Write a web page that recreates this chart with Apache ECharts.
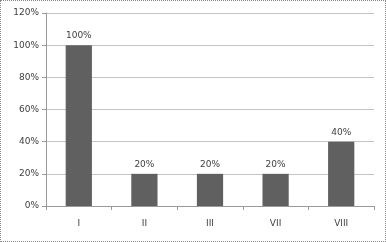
<!DOCTYPE html>
<html><head><meta charset="utf-8">
<script src="https://cdn.jsdelivr.net/npm/echarts@6/dist/echarts.min.js"></script>
<style>html,body{margin:0;padding:0;background:#fff}#c{width:386px;height:242px;box-sizing:border-box;border:1px dotted #888}</style>
</head><body><div id="c"></div>
<script>
const categories = ['I', 'II', 'III', 'VII', 'VIII'];
const values = [100, 20, 20, 20, 40];
const yTicks = [0, 20, 40, 60, 80, 100, 120];

const chart = echarts.init(document.getElementById('c'), null, {renderer: 'canvas'});
chart.setOption({
  animation: false,
  grid: {left: 45, right: 11, top: 12, bottom: 35},
  xAxis: {
    type: 'category', data: categories,
    axisLine: {lineStyle: {color: '#9a9a9a'}},
    axisTick: {show: true, length: 4, lineStyle: {color: '#9a9a9a'}},
    axisLabel: {color: '#404040', fontSize: 9, fontFamily: 'DejaVu Sans', margin: 13}
  },
  yAxis: {
    type: 'value', min: yTicks[0], max: yTicks[yTicks.length - 1], interval: 20,
    axisLine: {show: true, lineStyle: {color: '#9a9a9a'}},
    axisTick: {show: true, length: 4, lineStyle: {color: '#9a9a9a'}},
    axisLabel: {color: '#404040', fontSize: 9, fontFamily: 'DejaVu Sans', margin: 7, formatter: v => v + '%'},
    splitLine: {lineStyle: {color: '#c4c4c4'}}
  },
  series: [{
    type: 'bar', data: values, barWidth: '40%',
    itemStyle: {color: '#606060'},
    label: {show: true, position: 'top', distance: 5, color: '#404040', fontSize: 9, fontFamily: 'DejaVu Sans', formatter: p => p.value + '%'}
  }]
});
</script></body></html>
